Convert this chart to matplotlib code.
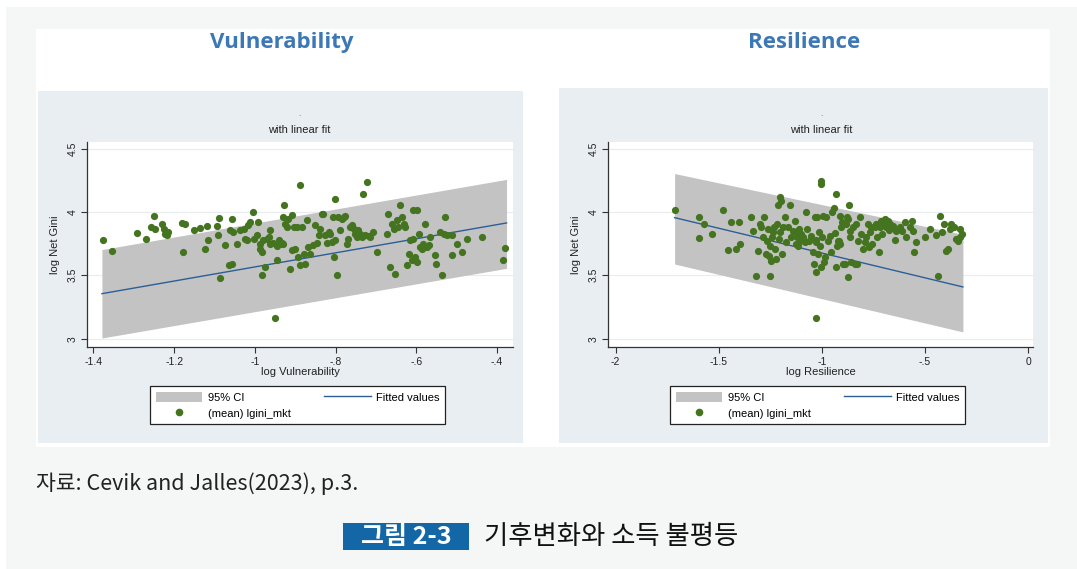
import matplotlib
matplotlib.use("Agg")
import matplotlib.pyplot as plt
from matplotlib.patches import Rectangle, Patch
from matplotlib.lines import Line2D

# ---- data -------------------------------------------------------------
vul_x = [-1.377, -1.354, -1.293, -1.270, -1.249, -1.258, -1.247, -1.231, -1.226, -1.222,
         -1.218, -1.214, -1.181, -1.173, -1.179, -1.152, -1.136, -1.119, -1.123, -1.115,
         -1.094, -1.090, -1.092, -1.086, -1.074, -1.065, -1.057, -1.057, -1.061, -1.053,
         -1.043, -1.036, -1.028, -1.024, -1.020, -1.016, -1.012, -1.005, -1.003, -0.995,
         -0.991, -0.987, -0.987, -0.983, -0.981, -0.979, -0.974, -0.970, -0.966, -0.962,
         -0.962, -0.954, -0.945, -0.944, -0.941, -0.937, -0.933, -0.927, -0.929, -0.925,
         -0.929, -0.921, -0.917, -0.912, -0.908, -0.908, -0.904, -0.900, -0.896, -0.892,
         -0.888, -0.888, -0.883, -0.879, -0.875, -0.871, -0.867, -0.863, -0.855, -0.850,
         -0.846, -0.842, -0.838, -0.834, -0.830, -0.826, -0.821, -0.817, -0.813, -0.809,
         -0.805, -0.803, -0.801, -0.801, -0.797, -0.793, -0.788, -0.784, -0.780, -0.776,
         -0.772, -0.768, -0.764, -0.760, -0.755, -0.751, -0.747, -0.743, -0.739, -0.735,
         -0.731, -0.726, -0.722, -0.718, -0.714, -0.706, -0.698, -0.673, -0.669, -0.666,
         -0.660, -0.656, -0.652, -0.648, -0.644, -0.640, -0.636, -0.631, -0.627, -0.623,
         -0.619, -0.615, -0.611, -0.607, -0.607, -0.602, -0.598, -0.598, -0.594, -0.590,
         -0.586, -0.582, -0.578, -0.574, -0.569, -0.565, -0.553, -0.550, -0.540, -0.536,
         -0.532, -0.528, -0.524, -0.512, -0.512, -0.499, -0.487, -0.474, -0.437, -0.385,
         -0.379, -0.950]
vul_y = [3.776, 3.692, 3.834, 3.789, 3.966, 3.882, 3.868, 3.908, 3.868, 3.829,
         3.816, 3.842, 3.913, 3.903, 3.684, 3.861, 3.876, 3.892, 3.711, 3.776,
         3.887, 3.955, 3.816, 3.479, 3.742, 3.579, 3.587, 3.947, 3.855, 3.842,
         3.750, 3.855, 3.863, 3.789, 3.782, 3.895, 3.921, 4.000, 3.789, 3.821,
         3.921, 3.750, 3.711, 3.684, 3.500, 3.776, 3.566, 3.784, 3.803, 3.855,
         3.750, 3.758, 3.618, 3.732, 3.782, 3.750, 3.758, 4.053, 3.961, 3.908,
         3.750, 3.882, 3.947, 3.553, 3.974, 3.697, 3.882, 3.711, 3.882, 3.645,
         4.211, 3.584, 3.882, 3.671, 3.592, 3.934, 3.724, 3.671, 3.737, 3.895,
         3.755, 3.816, 3.868, 3.987, 3.987, 3.816, 3.755, 3.842, 3.829, 3.763,
         3.961, 3.645, 4.105, 3.776, 3.500, 3.961, 3.855, 3.947, 3.961, 3.966,
         3.750, 3.789, 3.882, 3.895, 3.868, 3.829, 3.803, 3.855, 3.829, 3.803,
         4.139, 3.816, 4.237, 3.808, 3.803, 3.842, 3.684, 3.829, 3.987, 3.566,
         3.908, 3.868, 3.513, 3.934, 3.882, 4.053, 3.961, 3.908, 3.882, 3.579,
         3.671, 3.776, 3.618, 3.789, 4.013, 3.645, 4.013, 3.605, 3.829, 3.724,
         3.711, 3.750, 3.908, 3.724, 3.737, 3.803, 3.658, 3.587, 3.842, 3.500,
         3.829, 3.961, 3.816, 3.816, 3.658, 3.750, 3.684, 3.789, 3.803, 3.624,
         3.716, 3.166]

res_x = [-1.714, -1.597, -1.597, -1.572, -1.531, -1.479, -1.455, -1.439, -1.418, -1.402,
         -1.399, -1.342, -1.334, -1.318, -1.310, -1.302, -1.293, -1.285, -1.281, -1.272,
         -1.266, -1.261, -1.256, -1.253, -1.250, -1.245, -1.240, -1.237, -1.232, -1.227,
         -1.221, -1.216, -1.213, -1.208, -1.205, -1.201, -1.196, -1.192, -1.188, -1.180,
         -1.172, -1.164, -1.153, -1.148, -1.140, -1.132, -1.127, -1.124, -1.120, -1.116,
         -1.111, -1.104, -1.099, -1.091, -1.083, -1.075, -1.070, -1.062, -1.051, -1.043,
         -1.040, -1.035, -1.030, -1.027, -1.027, -1.023, -1.019, -1.014, -1.011, -1.006,
         -1.002, -1.002, -0.998, -0.994, -0.989, -0.986, -1.027, -0.978, -0.970, -0.962,
         -0.954, -0.949, -0.943, -0.938, -0.933, -0.930, -0.926, -0.922, -0.917, -0.914,
         -0.910, -0.905, -0.901, -0.897, -0.889, -0.884, -0.878, -0.873, -0.873, -0.868,
         -0.865, -0.862, -0.857, -0.849, -0.841, -0.836, -0.829, -0.825, -0.817, -0.808,
         -0.800, -0.792, -0.784, -0.776, -0.771, -0.765, -0.760, -0.755, -0.744, -0.739,
         -0.732, -0.723, -0.719, -0.711, -0.707, -0.703, -0.695, -0.687, -0.679, -0.674,
         -0.668, -0.663, -0.655, -0.647, -0.639, -0.622, -0.610, -0.598, -0.590, -0.574,
         -0.561, -0.558, -0.553, -0.542, -0.501, -0.477, -0.448, -0.437, -0.425, -0.416,
         -0.407, -0.396, -0.388, -0.380, -0.372, -0.361, -0.348, -0.340, -0.328, -0.318,
         -0.328]
res_y = [4.014, 3.962, 3.794, 3.904, 3.825, 4.017, 3.699, 3.917, 3.707, 3.917,
         3.747, 3.957, 3.846, 3.497, 3.689, 3.904, 3.878, 3.799, 3.957, 3.668,
         3.768, 3.865, 3.655, 3.497, 3.734, 3.615, 3.804, 3.839, 3.878, 3.707,
         3.629, 3.904, 4.056, 3.786, 4.114, 3.839, 4.088, 3.668, 3.878, 3.957,
         3.760, 3.878, 4.056, 3.799, 3.852, 3.930, 3.747, 3.839, 3.799, 3.734,
         3.865, 3.773, 3.825, 3.799, 3.760, 3.996, 3.865, 3.773, 3.812, 3.681,
         3.589, 3.957, 3.778, 3.760, 3.524, 3.962, 3.668, 3.839, 3.734, 3.563,
         4.245, 4.219, 3.799, 3.970, 3.602, 3.642, 3.164, 3.957, 3.773, 3.812,
         3.681, 3.996, 4.035, 3.831, 4.140, 3.563, 3.734, 3.773, 3.773, 3.747,
         3.970, 3.878, 3.917, 3.589, 3.589, 3.904, 3.957, 3.944, 3.484, 4.056,
         3.852, 3.799, 3.602, 3.878, 3.589, 3.904, 3.589, 3.773, 3.957, 3.825,
         3.707, 3.760, 3.799, 3.904, 3.720, 3.839, 3.878, 3.747, 3.878, 3.904,
         3.799, 3.681, 3.878, 3.930, 3.825, 3.904, 3.944, 3.878, 3.930, 3.857,
         3.904, 3.878, 3.891, 3.778, 3.852, 3.878, 3.852, 3.917, 3.799, 3.878,
         3.930, 3.852, 3.681, 3.760, 3.804, 3.865, 3.820, 3.497, 3.970, 3.839,
         3.904, 3.694, 3.707, 3.865, 3.904, 3.878, 3.786, 3.773, 3.865, 3.825,
         3.804]

# fitted line and 95% CI at both ends of each sample
vul_fit_x = [-1.379, -0.376]
vul_fit_y = [3.355, 3.913]
vul_ci_lo = [3.005, 3.555]
vul_ci_hi = [3.703, 4.257]

res_fit_x = [-1.714, -0.316]
res_fit_y = [3.955, 3.408]
res_ci_lo = [3.589, 3.053]
res_ci_hi = [4.303, 3.823]

vul_ticks = [-1.4, -1.2, -1.0, -0.8, -0.6, -0.4]
vul_ticklabels = ["-1.4", "-1.2", "-1", "-.8", "-.6", "-.4"]
res_ticks = [-2.0, -1.5, -1.0, -0.5, 0.0]
res_ticklabels = ["-2", "-1.5", "-1", "-.5", "0"]
y_ticks = [3.0, 3.5, 4.0, 4.5]
y_ticklabels = ["3", "3.5", "4", "4.5"]

# ---- layout -----------------------------------------------------------
W, H = 1077, 569
fig = plt.figure(figsize=(W / 100, H / 100), dpi=100)
fig.patch.set_facecolor("white")


def rect(x0, y0, x1, y1):
    return [x0 / W, 1 - y1 / H, (x1 - x0) / W, (y1 - y0) / H]


def fx(x):
    return x / W


def fy(y):
    return 1 - y / H


def box(x0, y0, x1, y1, color, z=-5):
    fig.patches.append(Rectangle((fx(x0), fy(y1)), (x1 - x0) / W, (y1 - y0) / H,
                                 transform=fig.transFigure, facecolor=color,
                                 edgecolor="none", zorder=z))


box(6, 7, W, H, "#f5f6f6")
box(36, 29, 1050, 447, "white")
box(38, 91, 523, 443, "#e9eef2")
box(559, 88, 1048, 443, "#e9eef2")

stata_font = "Liberation Sans"
GREEN = "#44741f"
BLUE = "#2c5e98"
BAND = "#c3c3c3"


def panel(ax_rect, cx, xs, ys, fit_x, fit_y, lo, hi, xticks, xticklabels,
          xlim, xlabel, leg_anchor):
    ax = fig.add_axes(ax_rect)
    ax.set_facecolor("white")
    ax.fill_between(fit_x, lo, hi, color=BAND, linewidth=0, zorder=1)
    ax.plot(fit_x, fit_y, color=BLUE, linewidth=1.0, zorder=2)
    ax.scatter(xs, ys, s=27, color=GREEN, linewidths=0, zorder=3)
    ax.set_xlim(*xlim)
    ax.set_ylim(2.934, 4.552)
    ax.set_xticks(xticks)
    ax.set_xticklabels(xticklabels)
    ax.set_yticks(y_ticks)
    ax.set_yticklabels(y_ticklabels, rotation=90, va="center")
    for y in y_ticks:
        ax.axhline(y, color="#e8ecee", linewidth=0.8, zorder=0)
    for s in ("top", "right"):
        ax.spines[s].set_visible(False)
    for s in ("left", "bottom"):
        ax.spines[s].set_color("#333333")
        ax.spines[s].set_linewidth(0.9)
    ax.tick_params(direction="out", length=4, width=0.8, color="#333333",
                   labelsize=7.5, labelcolor="#222222", pad=3)
    for lab in ax.get_xticklabels() + ax.get_yticklabels():
        lab.set_family(stata_font)
    ax.set_xlabel(xlabel, fontsize=8, family=stata_font, color="#222222", labelpad=0)
    ax.set_ylabel("log Net Gini", fontsize=8, family=stata_font, color="#222222", labelpad=5)

    fig.text(fx(cx), fy(114), ".", ha="center", va="center", fontsize=6,
             family=stata_font, color="#555555")
    fig.text(fx(cx), fy(130), "with linear fit", ha="center", va="center", fontsize=8,
             family=stata_font, color="#222222")

    handles = [Patch(facecolor=BAND, edgecolor="none"),
               Line2D([], [], linestyle="none", marker="o", markersize=4.5,
                      color=GREEN),
               Line2D([], [], color=BLUE, linewidth=1.0)]
    labels = ["95% CI", "(mean) lgini_mkt", "Fitted values"]
    leg = fig.legend(handles, labels, ncol=2, loc="upper left",
                     bbox_to_anchor=leg_anchor, frameon=True, fancybox=False,
                     framealpha=1, facecolor="white",
                     prop={"family": stata_font, "size": 8},
                     handlelength=4.2, handleheight=1.1, handletextpad=0.5,
                     columnspacing=3.0, labelspacing=0.45, borderpad=0.5,
                     borderaxespad=0)
    leg.get_frame().set_edgecolor("#222222")
    leg.get_frame().set_linewidth(0.9)
    return ax


panel(rect(87, 142, 513, 347), 299, vul_x, vul_y, vul_fit_x, vul_fit_y,
      vul_ci_lo, vul_ci_hi, vul_ticks, vul_ticklabels, (-1.416, -0.36),
      "log Vulnerability", (fx(150), fy(386)))
panel(rect(608, 142, 1033, 347), 821, res_x, res_y, res_fit_x, res_fit_y,
      res_ci_lo, res_ci_hi, res_ticks, res_ticklabels, (-2.037, 0.024),
      "log Resilience", (fx(670), fy(386)))

# ---- titles and captions ---------------------------------------------
TITLE_BLUE = "#3c78b6"
fig.text(fx(282), fy(48), "Vulnerability", ha="center", va="baseline",
         fontsize=16, fontweight="bold", family="Open Sans", color=TITLE_BLUE)
fig.text(fx(804), fy(48), "Resilience", ha="center", va="baseline",
         fontsize=16, fontweight="bold", family="Open Sans", color=TITLE_BLUE)

kr = ["Noto Sans CJK KR", "DejaVu Sans"]
fig.text(fx(36), fy(484), "자료: Cevik and Jalles(2023), p.3.", ha="left",
         va="center", fontsize=15.5, family=kr, color="#222222")

box(343, 523, 469, 550, "#1467a6")
fig.text(fx(406), fy(536.5), "그림 2-3", ha="center", va="center", fontsize=18,
         fontweight="bold", family=kr, color="white")
fig.text(fx(484), fy(536.5), "기후변화와 소득 불평등", ha="left", va="center",
         fontsize=19, family=kr, color="#111111")

fig.savefig("out.png", dpi=100, facecolor=fig.get_facecolor())
